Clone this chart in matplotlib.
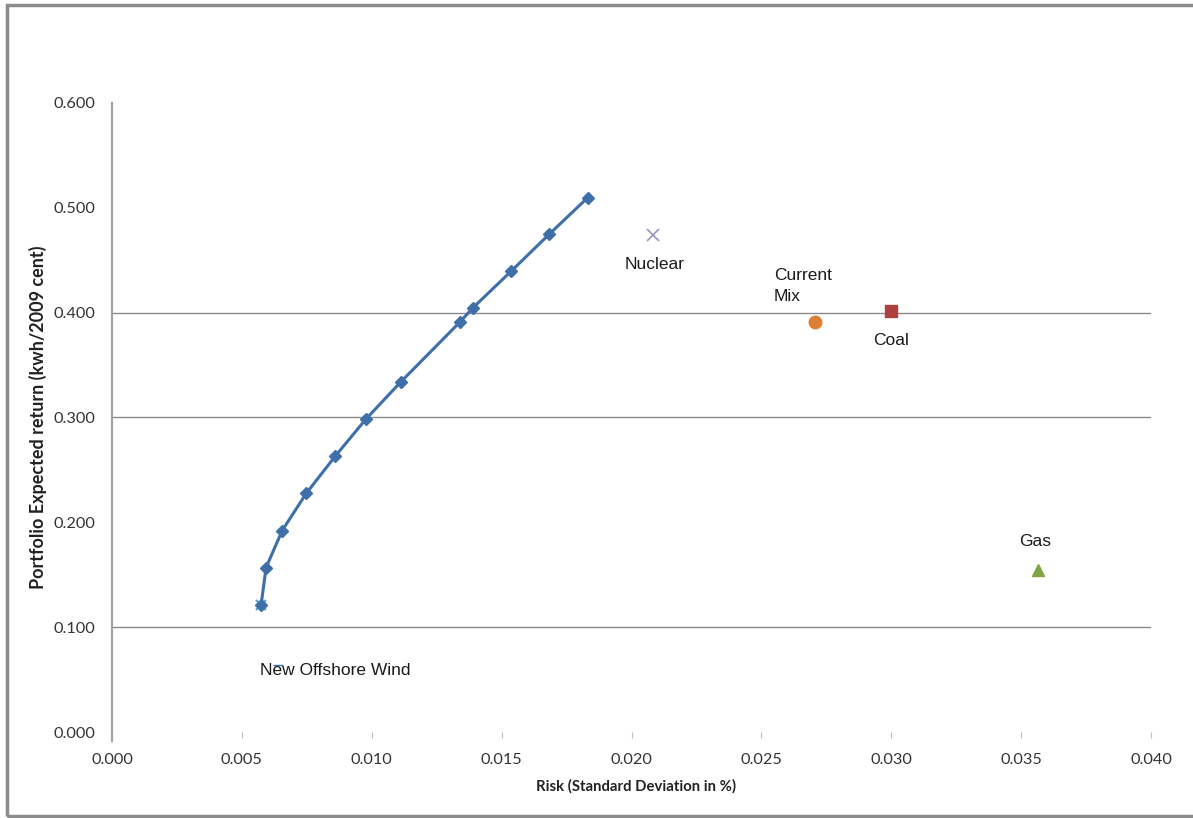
import matplotlib
matplotlib.use("Agg")
import matplotlib.pyplot as plt
from matplotlib.patches import Rectangle

# Efficient frontier
frontier_risk = [0.00574, 0.00593, 0.00655, 0.00748, 0.00860, 0.00978, 0.01112,
                 0.01338, 0.01388, 0.01536, 0.01683, 0.01831]
frontier_return = [0.1211, 0.1567, 0.1921, 0.2277, 0.2633, 0.2986, 0.3340,
                   0.3907, 0.4043, 0.4394, 0.4748, 0.5096]

# Individual technologies
tech_names = ["Nuclear", "Current\nMix", "Coal", "Gas", "New Offshore Wind"]
tech_risk = [0.02083, 0.02707, 0.02999, 0.03565, 0.00574]
tech_return = [0.474, 0.391, 0.4016, 0.1545, 0.1211]

x_ticks = [0.000, 0.005, 0.010, 0.015, 0.020, 0.025, 0.030, 0.035, 0.040]
y_ticks = [0.000, 0.100, 0.200, 0.300, 0.400, 0.500, 0.600]
grid_levels = [0.100, 0.300, 0.400]

fig = plt.figure(figsize=(11.93, 8.18), dpi=100)
fig.patches.append(Rectangle((7 / 1193, 2 / 818), 1.2, (811) / 818, transform=fig.transFigure,
                             fill=False, edgecolor="#8c8c8c", linewidth=2.5))
ax = fig.add_axes([112 / 1193, 86 / 818, 1039 / 1193, 629 / 818])

for g in grid_levels:
    ax.axhline(g, color="#8a8a8a", linewidth=1.0, zorder=0)

ax.plot(frontier_risk, frontier_return, color="#3e6fa8", linewidth=2.2,
        marker="D", markersize=6.5, zorder=3)
# wind marker
ax.plot([tech_risk[4]], [tech_return[4]], marker="x", color="#4aa3c8",
        markersize=7, mew=1.5, linestyle="none", zorder=2)
ax.plot([tech_risk[0]], [tech_return[0]], marker="x", color="#9d90c8",
        markersize=9, mew=1.2, linestyle="none", zorder=3)
ax.plot([tech_risk[1]], [tech_return[1]], marker="o", color="#e07f33",
        markersize=9, linestyle="none", zorder=3)
ax.plot([tech_risk[2]], [tech_return[2]], marker="s", color="#b04040",
        markersize=9, linestyle="none", zorder=3)
ax.plot([tech_risk[3]], [tech_return[3]], marker="^", color="#7fa443",
        markersize=9, linestyle="none", zorder=3)
ax.plot([0.0064], [0.064], marker="_", color="#3e6fa8", markersize=7,
        mew=1, linestyle="none", zorder=1)

lab_font = dict(family="Liberation Sans", fontsize=12.5, color="#1a1a1a")
ax.text(tech_risk[0] + 0.00005, tech_return[0] - 0.0285, tech_names[0], ha="center", va="center", **lab_font)
ax.text(0.02548, 0.4255, tech_names[1], ha="left", va="center", linespacing=1.45, **lab_font)
ax.text(0.03000, tech_return[2] - 0.0285, tech_names[2], ha="center", va="center", **lab_font)
ax.text(tech_risk[3] - 0.0001, tech_return[3] + 0.0275, tech_names[3], ha="center", va="center", **lab_font)
ax.text(0.00858, 0.059, tech_names[4], ha="center", va="center", **lab_font)

ax.set_xlim(0, 0.040)
ax.set_ylim(0, 0.600)
ax.set_xticks(x_ticks)
ax.set_yticks(y_ticks)
ax.set_xticklabels([f"{v:.3f}" for v in x_ticks], family="Lato", fontsize=11.7, color="#333333")
ax.set_yticklabels([f"{v:.3f}" for v in y_ticks], family="Lato", fontsize=11.7, color="#333333")
ax.tick_params(axis="y", length=0, pad=12)
ax.tick_params(axis="x", length=4, width=0.8, color="#bbbbbb", pad=11, direction="out")

for s in ["top", "right", "bottom"]:
    ax.spines[s].set_visible(False)
ax.spines["left"].set_color("#a0a0a0")
ax.spines["left"].set_linewidth(1.5)
ax.spines["left"].set_bounds(-0.009, 0.6)
ax.set_ylim(0, 0.600)

ax.set_xlabel("Risk (Standard Deviation in %)", family="Lato", fontweight="bold",
              fontsize=10.7, color="#222222")
ax.xaxis.set_label_coords(0.504, -0.0747)
ax.set_ylabel("Portfolio Expected return (kwh/2009 cent)", family="Lato", fontweight="bold",
              fontsize=13, color="#222222")
ax.yaxis.set_label_coords(-0.0626, 0.5)

fig.savefig("out.png", dpi=100)
